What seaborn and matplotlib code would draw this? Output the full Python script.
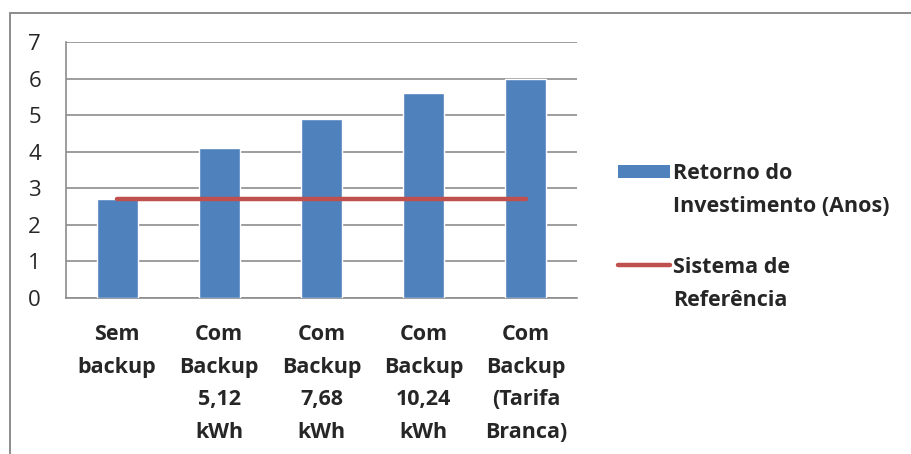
import numpy as np
import pandas as pd
import matplotlib
matplotlib.use("Agg")
import matplotlib.pyplot as plt
import seaborn as sns
from matplotlib.patches import Rectangle
from matplotlib.lines import Line2D

categories = ["Sem\nbackup", "Com\nBackup\n5,12\nkWh", "Com\nBackup\n7,68\nkWh",
              "Com\nBackup\n10,24\nkWh", "Com\nBackup\n(Tarifa\nBranca)"]
retorno = [2.7, 4.1, 4.9, 5.6, 6.0]
referencia = [2.7, 2.7, 2.7, 2.7, 2.7]
bar_label = "Retorno do\nInvestimento (Anos)"
line_label = "Sistema de\nReferência"

BLUE = "#4F81BD"
RED = "#C0504D"
GRID = "#8c8c8c"

sns.set_style("white")
plt.rcParams['font.family'] = ['Open Sans', 'DejaVu Sans']

df = pd.DataFrame({"cat": categories, "val": retorno})

W, H = 912, 454
fig = plt.figure(figsize=(W / 100, H / 100), dpi=100)
ax = fig.add_axes([66 / W, 1 - 298 / H, (577 - 66) / W, (298 - 42) / H])

sns.barplot(data=df, x="cat", y="val", color=BLUE, width=0.4,
            saturation=1, ax=ax, zorder=3)
ax.plot(np.arange(len(categories)), referencia, color=RED, lw=3.2,
        solid_capstyle="round", zorder=4)

ax.set_xlim(-0.5, len(categories) - 0.5)
ax.set_ylim(0, 7)
ax.set_yticks(range(0, 8))
ax.yaxis.grid(True, color=GRID, lw=1.2, zorder=0)
ax.set_axisbelow(True)
ax.set_xlabel("")
ax.set_ylabel("")

for s in ["top", "right"]:
    ax.spines[s].set_visible(False)
for s in ["left", "bottom"]:
    ax.spines[s].set_color(GRID)
    ax.spines[s].set_linewidth(1.2)

FS = 15.5
ax.set_xticks(np.arange(len(categories)))
ax.set_xticklabels(categories, fontsize=FS, fontweight="bold", linespacing=1.72)
ax.tick_params(axis="x", length=0, pad=19)
ax.set_xticks(np.arange(-0.5, len(categories)), minor=True)
ax.tick_params(axis="x", which="minor", length=8, color=GRID, width=1.2,
               direction="out")
ax.tick_params(axis="y", labelsize=16, length=8, color=GRID, width=1.2,
               direction="out", pad=10)

# legend, handles aligned to the first text line as in the original
def fx(px):
    return px / W

def fy(py):
    return 1 - py / H

fig.patches.append(Rectangle((fx(618), fy(178)), fx(52), 13 / H,
                             transform=fig.transFigure, facecolor=BLUE,
                             edgecolor="none"))
fig.lines.append(Line2D([fx(618), fx(670)], [fy(265), fy(265)],
                        transform=fig.transFigure, color=RED, lw=3.2,
                        solid_capstyle="round"))
fig.text(fx(673), fy(163), bar_label, fontsize=FS, fontweight="bold",
         va="top", ha="left", linespacing=1.72)
fig.text(fx(673), fy(257), line_label, fontsize=FS, fontweight="bold",
         va="top", ha="left", linespacing=1.72)

# border of the chart area (top and left edges visible)
fig.lines.append(Line2D([fx(10), 1], [fy(12.5), fy(12.5)],
                        transform=fig.transFigure, color=GRID, lw=1.4))
fig.lines.append(Line2D([fx(10.5), fx(10.5)], [fy(12.5), 0],
                        transform=fig.transFigure, color=GRID, lw=1.4))

fig.savefig("out.png", dpi=100)
